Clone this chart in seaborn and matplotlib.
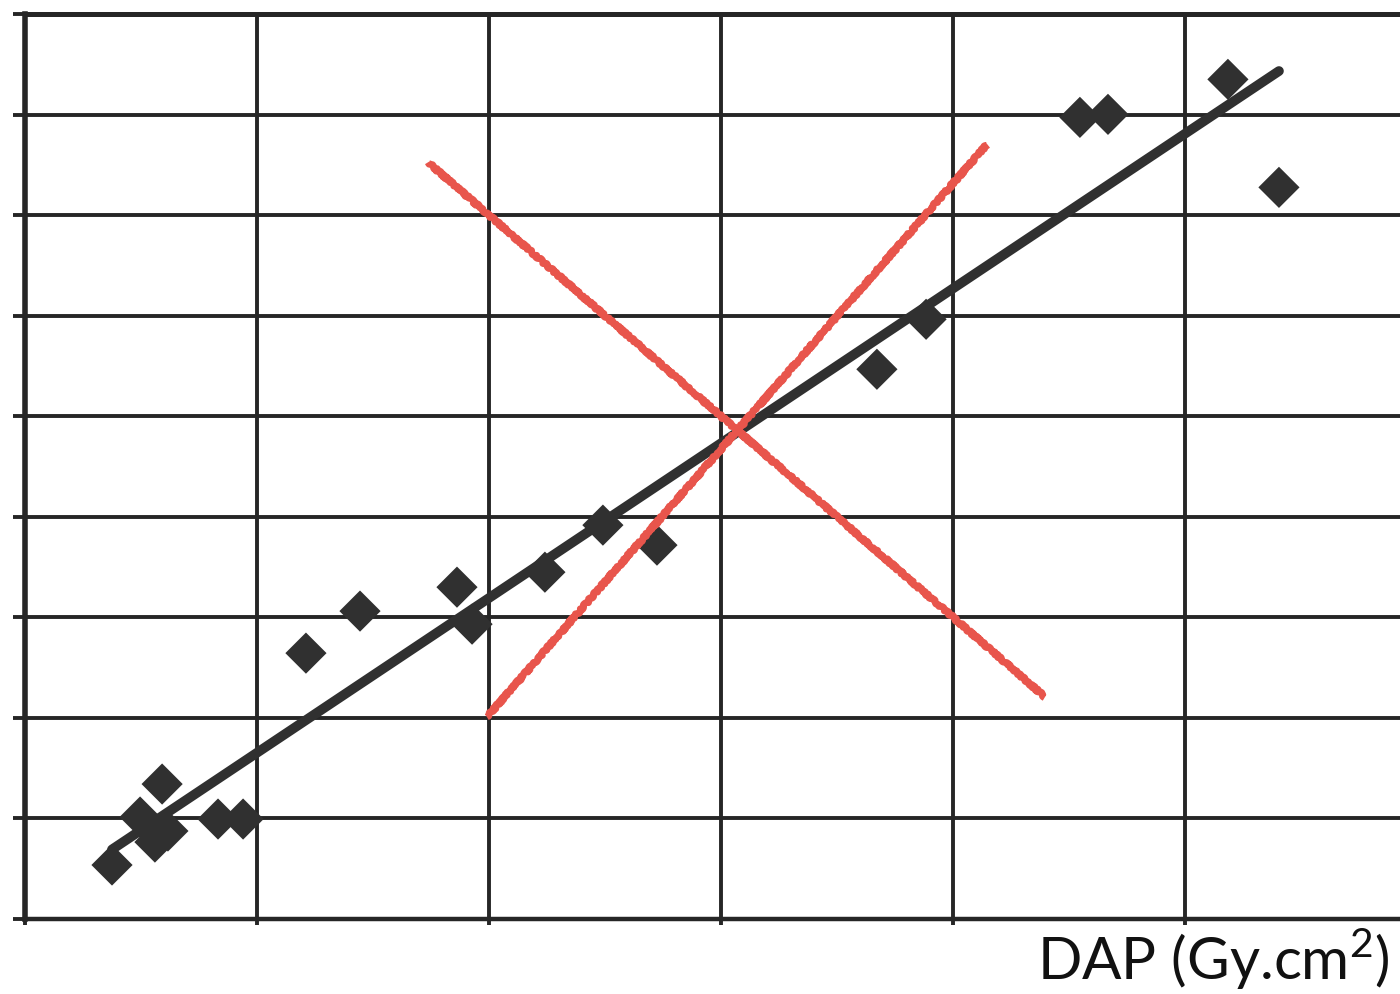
import numpy as np
import pandas as pd
import matplotlib
matplotlib.use("Agg")
import matplotlib.pyplot as plt
import seaborn as sns

# Measured points (DAP on x, response on y), in grid units
dap = [0.375, 0.496, 0.560, 0.616, 0.591, 0.832, 0.940, 1.211, 1.444, 1.862,
       1.927, 2.241, 2.491, 2.724, 3.672, 3.884, 4.547, 4.668, 5.185, 5.405]
resp = [0.537, 1.014, 0.765, 0.875, 1.342, 0.994, 0.994, 2.644, 3.062, 3.300,
        2.932, 3.449, 3.917, 3.718, 5.467, 5.964, 7.972, 8.002, 8.350, 7.276]

# Red cross-out strokes (start/end in grid units)
cross_a_x = [1.737, 4.397]
cross_a_y = [7.525, 2.207]
cross_b_x = [1.991, 4.147]
cross_b_y = [2.008, 7.704]

x_grid = [0, 1, 2, 3, 4, 5]
y_grid = [0, 1, 2, 3, 4, 5, 6, 7, 8, 9]

df = pd.DataFrame({"DAP": dap, "value": resp})

sns.set_style("ticks")
plt.rcParams["font.family"] = ["Lato", "DejaVu Sans"]
plt.rcParams["mathtext.fontset"] = "custom"
plt.rcParams["mathtext.rm"] = "Lato"

fig = plt.figure(figsize=(14, 9.95), dpi=100)
ax = fig.add_axes([25 / 1400, 1 - 920 / 995, 1 - 25 / 1400, 905 / 995])

ink = "#262626"
sns.regplot(data=df, x="DAP", y="value", ax=ax, ci=None, truncate=True, marker="D",
            scatter_kws=dict(s=440, color="#303030", edgecolors="none", alpha=1, zorder=4),
            line_kws=dict(color="#303030", lw=7, solid_capstyle="round", zorder=3))

for xs, ys in [(cross_a_x, cross_a_y), (cross_b_x, cross_b_y)]:
    ln, = ax.plot(xs, ys, color="#e8554c", lw=5, solid_capstyle="butt", zorder=5)
    ln.set_sketch_params(scale=1.2, length=6, randomness=4)

ax.set_xlim(0, 1375 / 232)
ax.set_ylim(0, 9)
ax.set_xticks(x_grid)
ax.set_yticks(y_grid)
ax.set_xticklabels([])
ax.set_yticklabels([])
ax.grid(True, color=ink, lw=2.8)
ax.set_axisbelow(True)
ax.tick_params(axis="y", direction="out", length=9, width=2.8, color=ink, left=True)
ax.tick_params(axis="x", direction="out", length=4, width=2.8, color=ink, bottom=True)
ax.set_xlabel("")
ax.set_ylabel("")

for side in ["left", "top", "bottom"]:
    ax.spines[side].set_color(ink)
ax.spines["left"].set_linewidth(4.0)
ax.spines["top"].set_linewidth(3.6)
ax.spines["bottom"].set_linewidth(3.2)
ax.spines["right"].set_visible(False)

fig.text(1390 / 1400, 1 - 980 / 995, r"DAP (Gy.cm$^{\mathregular{2}}$)",
         ha="right", va="baseline", fontsize=42, color="#111111")

fig.savefig("out.png", dpi=100, facecolor="white")
